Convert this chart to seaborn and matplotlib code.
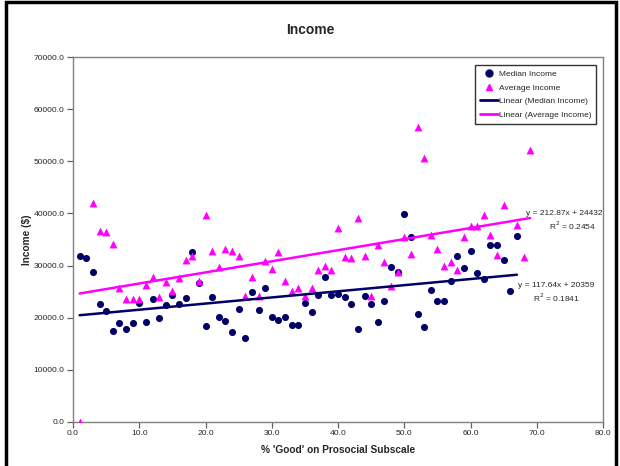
import matplotlib
matplotlib.use('Agg')
import matplotlib.pyplot as plt
import seaborn as sns
import numpy as np
import pandas as pd
from matplotlib.patches import Rectangle
from matplotlib.lines import Line2D

sns.set_style('white')
plt.rcParams['font.family'] = ['Liberation Sans', 'DejaVu Sans']

NAVY = '#000066'
MAGENTA = '#FF00FF'

# % 'Good' on Prosocial Subscale vs median income
median_x = list(range(1, 68))
median_income = [31740, 31430, 28810, 22560, 21300, 17530, 19060, 17780, 19000, 22830,
                 19250, 23590, 19890, 22380, 24360, 22640, 23850, 32640, 26650, 18430,
                 24030, 20080, 19390, 17340, 21610, 16140, 24930, 21490, 25700, 20210,
                 19500, 20150, 18680, 18680, 22750, 21170, 24420, 27800, 24280, 24550,
                 24030, 22640, 17780, 24090, 22560, 19120, 23140, 29770, 28680, 39960,
                 35500, 20650, 18160, 25310, 23270, 23270, 26960, 31740, 29580, 32890,
                 28620, 27480, 34040, 33920, 30980, 25180, 35700]

# average income (no points at 2 and 66)
average_x = [1] + list(range(3, 66)) + [67, 68, 69]
average_income = [0, 41950, 36650, 36460, 34170, 25700, 23520, 23590, 23520, 26270,
                  27860, 23970, 26770, 25180, 27530, 31050, 31870, 27090, 39770, 32830,
                  29770, 33150, 32700, 31740, 24090, 27720, 24170, 30860, 29250, 32580,
                  26960, 25050, 25750, 24230, 25620, 29140, 29900, 29140, 37260, 31550,
                  31360, 39050, 31740, 24230, 33920, 30590, 26000, 28810, 35510, 32200,
                  56600, 50550, 35890, 33150, 29960, 30780, 29200, 35560, 37610, 37610,
                  39650, 35950, 32120, 41570, 37800, 31620, 52140]

# Excel linear trendlines as labelled on the chart
median_fit = (117.64, 20359)
average_fit = (212.87, 24432)

median_df = pd.DataFrame({'x': median_x, 'y': median_income})
average_df = pd.DataFrame({'x': average_x, 'y': average_income})

fig = plt.figure(figsize=(6.2, 4.66), dpi=100)
ax = fig.add_axes([73 / 620, 44 / 466, 530 / 620, 365 / 466])

sns.scatterplot(data=median_df, x='x', y='y', ax=ax, color=NAVY, marker='o',
                s=26, edgecolor=NAVY, linewidth=0, zorder=3)
sns.scatterplot(data=average_df, x='x', y='y', ax=ax, color=MAGENTA, marker='^',
                s=32, edgecolor=MAGENTA, linewidth=0, zorder=4)

#trend lines over the span of each series
med_line = pd.DataFrame({'x': [min(median_x), max(median_x)]})
med_line['y'] = median_fit[0] * med_line['x'] + median_fit[1]
avg_line = pd.DataFrame({'x': [min(average_x), max(average_x)]})
avg_line['y'] = average_fit[0] * avg_line['x'] + average_fit[1]
sns.lineplot(data=med_line, x='x', y='y', ax=ax, color=NAVY, linewidth=1.8, zorder=5)
sns.lineplot(data=avg_line, x='x', y='y', ax=ax, color=MAGENTA, linewidth=1.8, zorder=5)

ax.set_xlim(0, 80)
ax.set_ylim(0, 70000)
ax.set_xticks(np.arange(0, 81, 10))
ax.set_yticks(np.arange(0, 70001, 10000))
ax.set_xticklabels(['%.1f' % v for v in np.arange(0, 81, 10)], fontsize=6.1)
ax.set_yticklabels(['%.1f' % v for v in np.arange(0, 70001, 10000)], fontsize=6.1)
ax.tick_params(axis='both', which='both', direction='out', length=4, width=0.9,
               color='#606060', pad=2, left=True, bottom=True)
for s in ax.spines.values():
    s.set_color('#808080')
    s.set_linewidth(1.0)

ax.set_xlabel("% 'Good' on Prosocial Subscale", fontsize=7.3, fontweight='bold', va='center')
ax.xaxis.set_label_coords(0.5, -0.077)
ax.set_ylabel('Income ($)', fontsize=7.3, fontweight='bold', va='center')
ax.yaxis.set_label_coords(-0.087, 0.5)
fig.text(0.5, 1 - 30 / 466, 'Income', ha='center', va='center', fontsize=10, fontweight='bold')

ax.text(68.4, 40060, 'y = 212.87x + 24432', fontsize=6, ha='left', va='center')
ax.text(75.4, 37570, 'R$^2$ = 0.2454', fontsize=6, ha='center', va='center')
ax.text(67.2, 26270, 'y = 117.64x + 20359', fontsize=6, ha='left', va='center')
ax.text(72.9, 23900, 'R$^2$ = 0.1841', fontsize=6, ha='center', va='center')

handles = [
    Line2D([], [], marker='o', color=NAVY, linestyle='none', markersize=5),
    Line2D([], [], marker='^', color=MAGENTA, linestyle='none', markersize=5),
    Line2D([], [], color=NAVY, linewidth=2),
    Line2D([], [], color=MAGENTA, linewidth=2),
]
labels = ['Median Income', 'Average Income', 'Linear (Median Income)', 'Linear (Average Income)']
leg = ax.legend(handles, labels, loc='upper right', bbox_to_anchor=(0.987, 0.978),
                fontsize=6, frameon=True, fancybox=False, edgecolor='black',
                handlelength=2.2, handletextpad=0.05, borderpad=0.6, labelspacing=0.7,
                borderaxespad=0)
leg.get_frame().set_linewidth(1.0)

fig.patches.append(Rectangle((6 / 620, -0.01), 610 / 620, 1.005, transform=fig.transFigure,
                             fill=False, linewidth=2.5, edgecolor='black'))

fig.savefig('out.png', dpi=100)
